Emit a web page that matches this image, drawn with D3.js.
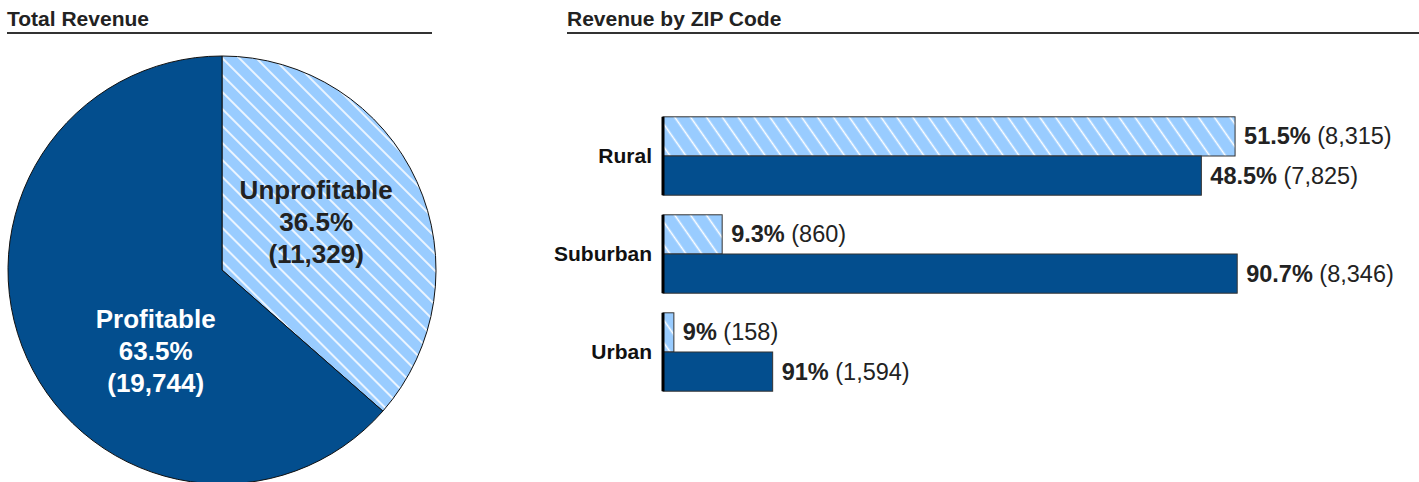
<!DOCTYPE html>
<html>
<head>
<meta charset="utf-8">
<script src="https://cdn.jsdelivr.net/npm/d3@7"></script>
<style>
  body { margin: 0; background: #fff; }
  svg { display: block; font-family: "Liberation Sans", Arial, sans-serif; }
  .panel-title { font-weight: bold; font-size: 21px; fill: #222; }
</style>
</head>
<body>
<div id="chart"></div>
<script>
// data
const pieCategories = ["Unprofitable", "Profitable"];
const pieValues = [11329, 19744];
const piePercents = ["36.5%", "63.5%"];

const zipCategories = ["Rural", "Suburban", "Urban"];
const seriesNames = ["Unprofitable", "Profitable"];
const unprofitableValues = [8315, 860, 158];
const profitableValues = [7825, 8346, 1594];
const unprofitablePct = ["51.5%", "9.3%", "9%"];
const profitablePct = ["48.5%", "90.7%", "91%"];

const W = 1419, H = 482;
const darkBlue = "#034e8e", lightBlue = "#99ccff", ink = "#222";
const fmt = d3.format(",");

const svg = d3.select("#chart").append("svg")
  .attr("width", W).attr("height", H);

// hatch patterns
const defs = svg.append("defs");
function hatch(id, size, angle) {
  const p = defs.append("pattern")
    .attr("id", id)
    .attr("patternUnits", "userSpaceOnUse")
    .attr("width", size).attr("height", size)
    .attr("patternTransform", `rotate(${angle})`);
  p.append("rect").attr("width", size).attr("height", size).attr("fill", lightBlue);
  p.append("line")
    .attr("x1", size / 2).attr("y1", 0).attr("x2", size / 2).attr("y2", size)
    .attr("stroke", "#fff").attr("stroke-width", 1.6);
}
hatch("hatchPie", 12, -45);
hatch("hatchBar", 13, -35);

function panelTitle(x, x2, text) {
  svg.append("text").attr("class", "panel-title")
    .attr("x", x).attr("y", 26).text(text);
  svg.append("line")
    .attr("x1", x).attr("x2", x2).attr("y1", 33).attr("y2", 33)
    .attr("stroke", "#333").attr("stroke-width", 2);
}
panelTitle(7, 432, "Total Revenue");
panelTitle(567, W, "Revenue by ZIP Code");

// ---- pie ----
const cx = 222, cy = 270, R = 214;
const pieG = svg.append("g").attr("transform", `translate(${cx},${cy})`);
const pie = d3.pie().sort(null).value(d => d.value);
const pieData = pie(pieCategories.map((c, i) => ({ cat: c, value: pieValues[i], pct: piePercents[i] })));
const arc = d3.arc().innerRadius(0).outerRadius(R);

pieG.selectAll("path.slice")
  .data(pieData)
  .join("path")
  .attr("class", "slice")
  .attr("d", arc)
  .attr("fill", (d, i) => i === 0 ? "url(#hatchPie)" : darkBlue)
  .attr("stroke", "#111")
  .attr("stroke-width", 1);

// label offsets as fractions of the radius
const labelPos = [[0.44, -0.33], [-0.31, 0.27]];
pieData.forEach((d, i) => {
  const t = pieG.append("text")
    .attr("text-anchor", "middle")
    .attr("font-weight", "bold")
    .attr("font-size", 26)
    .attr("fill", i === 0 ? ink : "#fff")
    .attr("transform", `translate(${labelPos[i][0] * R},${labelPos[i][1] * R})`);
  [d.data.cat, d.data.pct, `(${fmt(d.data.value)})`].forEach((s, j) => {
    t.append("tspan").attr("x", 0).attr("y", j * 32).text(s);
  });
});

// ---- bars ----
const x0 = 663;
const xScale = d3.scaleLinear().domain([0, 10000]).range([x0, x0 + 688]);
const yScale = d3.scaleBand().domain(zipCategories).range([107, 401])
  .paddingInner(0.2).paddingOuter(0.1);
const ySub = d3.scaleBand().domain(seriesNames).range([0, yScale.bandwidth()]);

const rows = zipCategories.map((c, i) => ({
  cat: c,
  bars: [
    { s: "Unprofitable", v: unprofitableValues[i], pct: unprofitablePct[i] },
    { s: "Profitable", v: profitableValues[i], pct: profitablePct[i] }
  ]
}));

const groups = svg.selectAll("g.row")
  .data(rows)
  .join("g")
  .attr("class", "row")
  .attr("transform", d => `translate(0,${yScale(d.cat)})`);

groups.selectAll("rect")
  .data(d => d.bars)
  .join("rect")
  .attr("x", xScale(0))
  .attr("y", d => ySub(d.s))
  .attr("width", d => xScale(d.v) - xScale(0))
  .attr("height", ySub.bandwidth())
  .attr("fill", d => d.s === "Unprofitable" ? "url(#hatchBar)" : darkBlue)
  .attr("stroke", "#333")
  .attr("stroke-width", 1);

// left axis segment per group
groups.append("line")
  .attr("x1", xScale(0)).attr("x2", xScale(0))
  .attr("y1", 0).attr("y2", yScale.bandwidth())
  .attr("stroke", "#000").attr("stroke-width", 3);

groups.append("text")
  .attr("x", 652)
  .attr("y", yScale.bandwidth() / 2 + 7)
  .attr("text-anchor", "end")
  .attr("font-weight", "bold")
  .attr("font-size", 21)
  .attr("fill", "#111")
  .text(d => d.cat);

const vl = groups.selectAll("text.val")
  .data(d => d.bars)
  .join("text")
  .attr("class", "val")
  .attr("x", d => xScale(d.v) + 9)
  .attr("y", d => ySub(d.s) + ySub.bandwidth() / 2 + 8)
  .attr("font-size", 23.5)
  .attr("fill", ink);
vl.append("tspan").attr("font-weight", "bold").text(d => d.pct);
vl.append("tspan").text(d => ` (${fmt(d.v)})`);
</script>
</body>
</html>
